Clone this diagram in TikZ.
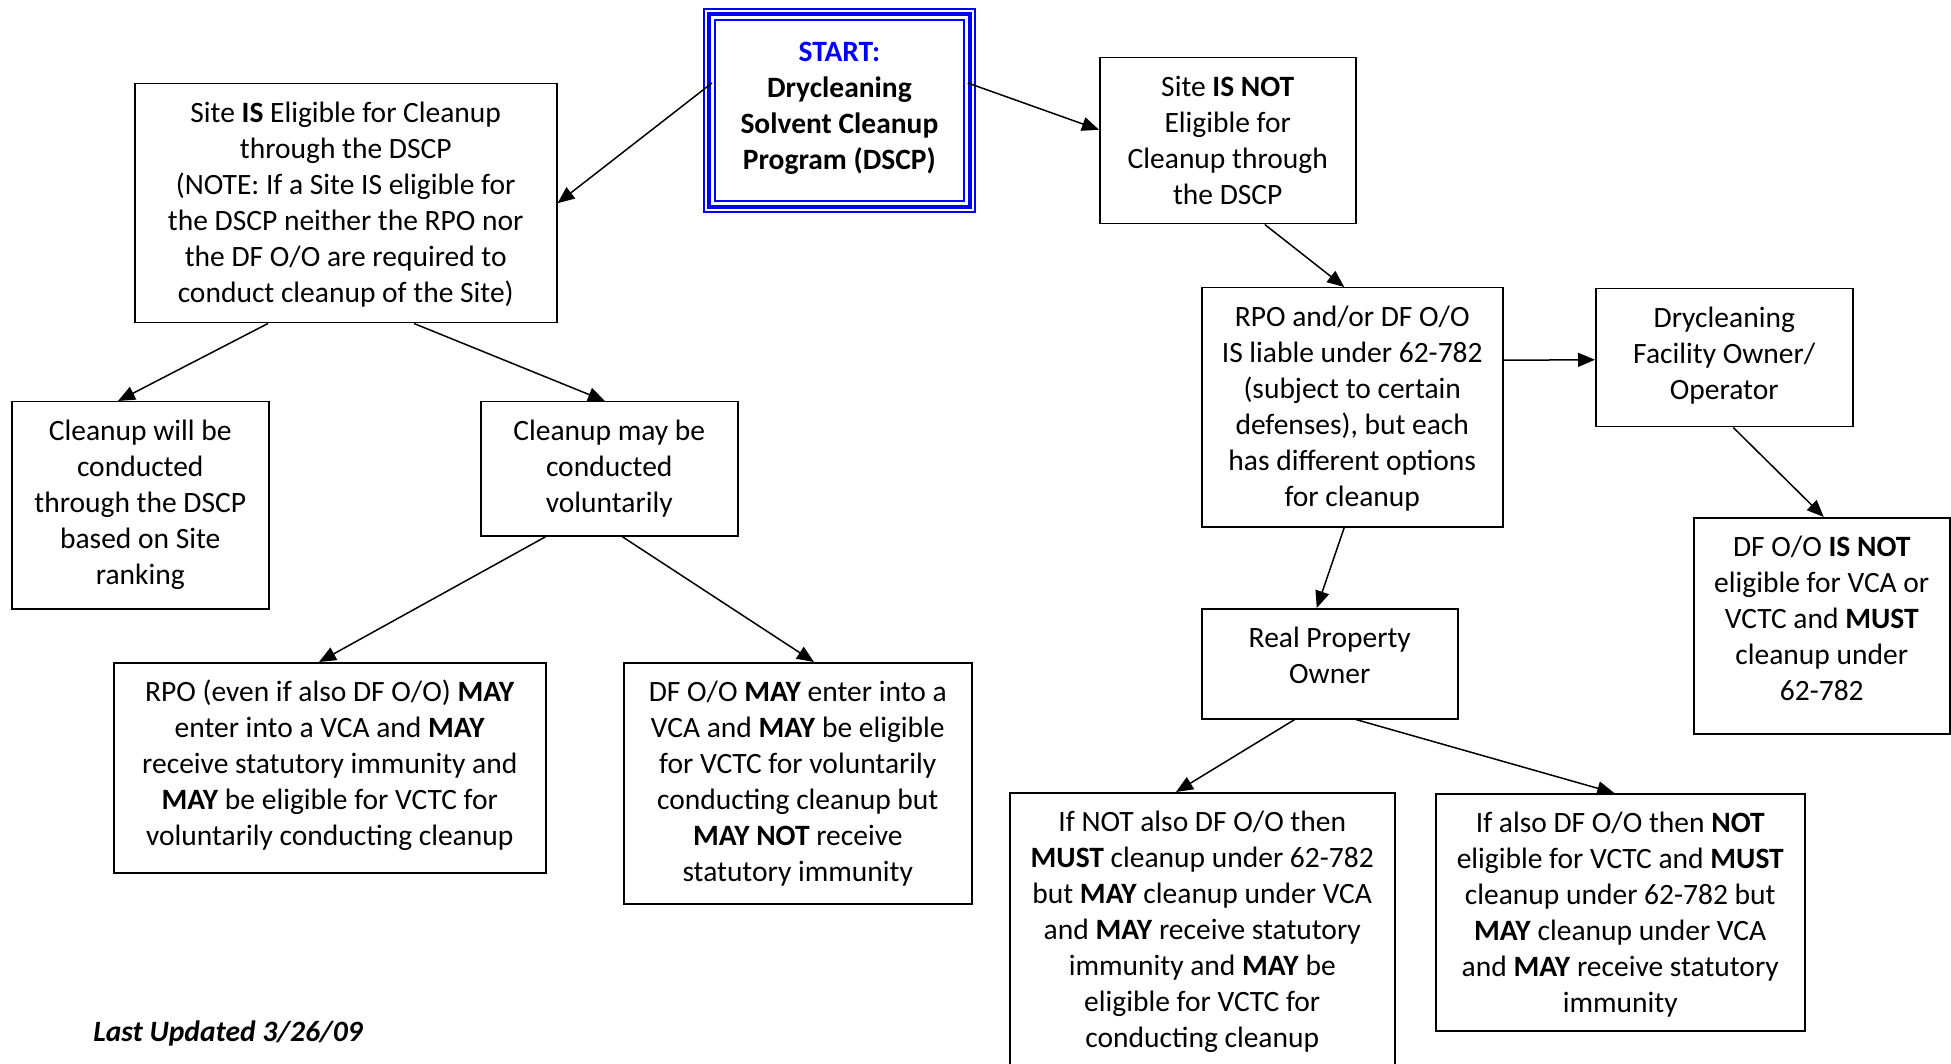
\documentclass[tikz,border=0pt]{standalone}
\usepackage{fontspec}
\setmainfont{Carlito}
\usetikzlibrary{calc,arrows.meta}
\definecolor{startblue}{RGB}{0,0,255}
\tikzset{
  bx/.style={draw=black, line width=0.75pt, inner sep=0pt, anchor=north west},
  txt/.style={anchor=north, align=center, inner sep=0pt},
  conn/.style={draw=black, line width=0.75pt, -{Triangle[length=8.5pt,width=7pt]}},
}
\newcommand\mybox[5]{\node[bx, minimum width=#4*0.5pt, minimum height=#5*0.5pt] (#1) at (#2,#3) {};}
\begin{document}
\begin{tikzpicture}[x=0.5pt, y=-0.5pt, font=\fontsize{14.75}{18}\selectfont]
\useasboundingbox (0,0) rectangle (1951,1064);
\clip (0,0) rectangle (1951,1064);
\fill[white] (0,0) rectangle (1951,1064);

% start box
\node[inner sep=0pt, minimum width=272*0.5pt, minimum height=204*0.5pt, anchor=north west] (start) at (703,8) {};
\draw[startblue, line width=1pt] ($(start.north west)+(1,1)$) rectangle ($(start.south east)+(-1,-1)$);
\draw[startblue, line width=2pt] ($(start.north west)+(6,6)$) rectangle ($(start.south east)+(-6,-6)$);
\draw[startblue, line width=1pt] ($(start.north west)+(12,12)$) rectangle ($(start.south east)+(-12,-12)$);
\node[txt, font=\fontsize{14.75}{18}\selectfont\bfseries] (starttxt) at ($(start.north)+(0,28)$)
  {\strut\textcolor{startblue}{START:}\\Drycleaning\\Solvent Cleanup\\Program (DSCP)};

% boxes
\mybox{elig}{134}{83}{422}{239}
\mybox{notel}{1099}{57}{256}{166}
\mybox{will}{11}{401}{257}{207}
\mybox{may}{480}{401}{257}{134}
\mybox{rpo}{113}{662}{432}{210}
\mybox{dfmay}{623}{662}{348}{241}
\mybox{liable}{1201}{287}{301}{239}
\mybox{dfo}{1595}{288}{257}{138}
\mybox{dfnot}{1693}{517}{256}{216}
\mybox{rpoown}{1201}{608}{256}{110}
\mybox{ifnot}{1009}{792}{385}{300}
\mybox{ifalso}{1435}{793}{369}{237}

% texts
\node[txt] (eligt) at ($(elig.north)+(0,14)$) {\strut Site \textbf{IS} Eligible for Cleanup\\through the DSCP\\(NOTE: If a Site IS eligible for\\the DSCP neither the RPO nor\\the DF O/O are required to\\conduct cleanup of the Site)};
\node[txt] (notelt) at ($(notel.north)+(0,14)$) {\strut Site \textbf{IS NOT}\\Eligible for\\Cleanup through\\the DSCP};
\node[txt] (willt) at ($(will.north)+(0,14)$) {\strut Cleanup will be\\conducted\\through the DSCP\\based on Site\\ranking};
\node[txt] (mayt) at ($(may.north)+(0,14)$) {\strut Cleanup may be\\conducted\\voluntarily};
\node[txt] (rpot) at ($(rpo.north)+(0,14)$) {\strut RPO (even if also DF O/O) \textbf{MAY}\\enter into a VCA and \textbf{MAY}\\receive statutory immunity and\\\textbf{MAY} be eligible for VCTC for\\voluntarily conducting cleanup};
\node[txt] (dfmayt) at ($(dfmay.north)+(0,14)$) {\strut DF O/O \textbf{MAY} enter into a\\VCA and \textbf{MAY} be eligible\\for VCTC for voluntarily\\conducting cleanup but\\\textbf{MAY NOT} receive\\statutory immunity};
\node[txt] (liablet) at ($(liable.north)+(0,14)$) {\strut RPO and/or DF O/O\\IS liable under 62-782\\(subject to certain\\defenses), but each\\has different options\\for cleanup};
\node[txt] (dfot) at ($(dfo.north)+(0,14)$) {\strut Drycleaning\\Facility Owner/\\Operator};
\node[txt] (dfnott) at ($(dfnot.north)+(0,14)$) {\strut DF O/O \textbf{IS NOT}\\eligible for VCA or\\VCTC and \textbf{MUST}\\cleanup under\\62-782};
\node[txt] (rpoownt) at ($(rpoown.north)+(0,14)$) {\strut Real Property\\Owner};
\node[txt] (ifnott) at ($(ifnot.north)+(0,14)$) {\strut If NOT also DF O/O then\\\textbf{MUST} cleanup under 62-782\\but \textbf{MAY} cleanup under VCA\\and \textbf{MAY} receive statutory\\immunity and \textbf{MAY} be\\eligible for VCTC for\\conducting cleanup};
\node[txt] (ifalsot) at ($(ifalso.north)+(0,14)$) {\strut If also DF O/O then \textbf{NOT}\\eligible for VCTC and \textbf{MUST}\\cleanup under 62-782 but\\\textbf{MAY} cleanup under VCA\\and \textbf{MAY} receive statutory\\immunity};

\node[anchor=base west, inner sep=0pt, font=\fontsize{14.75}{18}\selectfont\bfseries\itshape] (upd) at (93,1041) {Last Updated 3/26/09};

% connectors
\draw[conn] ($(start.north west)+(9,75)$) -- (elig.east);
\draw[conn] ($(start.north east)+(-8,75)$) -- ($(notel.west)+(0,-11)$);
\draw[conn] ($(notel.south)+(37,0)$) -- ($(liable.north)+(-8,0)$);
\draw[conn] ($(liable.east)+(0,-47)$) -- ($(dfo.west)+(0,2)$);
\draw[conn] ($(dfo.south)+(9,0)$) -- ($(dfnot.north)+(2,0)$);
\draw[conn] ($(liable.south)+(-8,0)$) -- ($(rpoown.north)+(-13,0)$);
\draw[conn] ($(rpoown.south)+(-35,0)$) -- ($(ifnot.north west)+(167,0)$);
\draw[conn] ($(rpoown.south)+(26,0)$) -- ($(ifalso.north)+(-6,0)$);
\draw[conn] ($(elig.south west)+(134,0)$) -- ($(will.north west)+(107,0)$);
\draw[conn] ($(elig.south west)+(280,0)$) -- ($(may.north west)+(125,0)$);
\draw[conn] ($(may.south west)+(66,0)$) -- ($(rpo.north west)+(206,0)$);
\draw[conn] ($(may.south west)+(142,0)$) -- ($(dfmay.north west)+(191,0)$);
\end{tikzpicture}
\end{document}
